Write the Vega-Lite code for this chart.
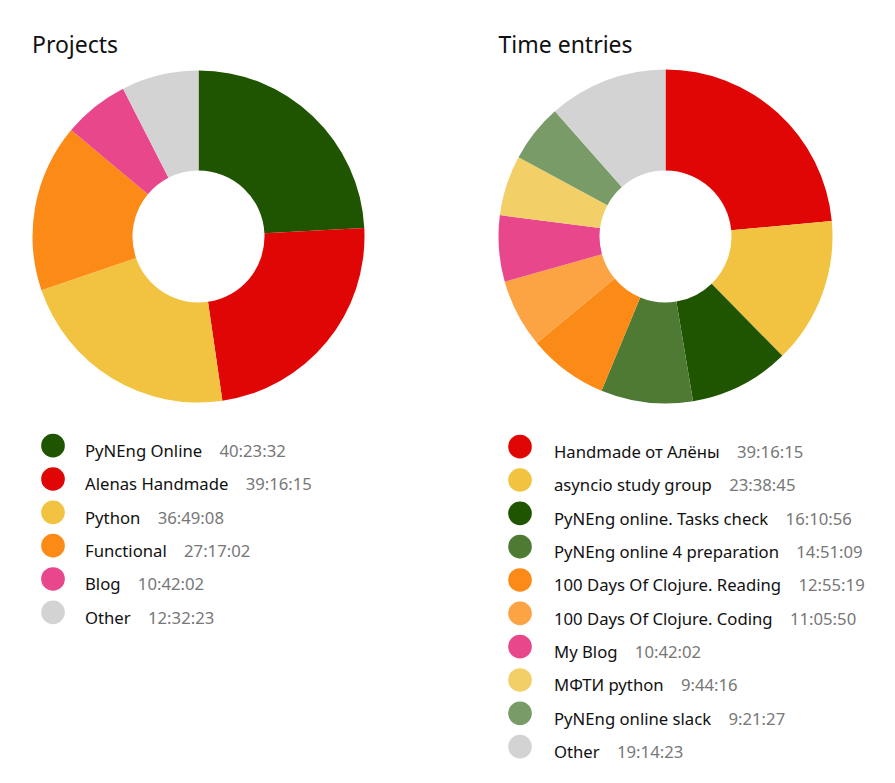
{
  "$schema": "https://vega.github.io/schema/vega-lite/v6.json",
  "background": "white",
  "padding": {"left": 32, "top": 34, "right": 0, "bottom": 0},
  "config": {
    "view": {"stroke": null},
    "font": "Noto Sans",
    "title": {"font": "Noto Sans", "fontSize": 23, "fontWeight": "normal", "color": "#111111", "anchor": "start", "baseline": "alphabetic", "offset": 12}
  },
  "resolve": {"scale": {"color": "independent"}},
  "datasets": {
    "projects": [
      {"name": "PyNEng Online", "time": "40:23:32", "seconds": 145412, "order": 1},
      {"name": "Alenas Handmade", "time": "39:16:15", "seconds": 141375, "order": 2},
      {"name": "Python", "time": "36:49:08", "seconds": 132548, "order": 3},
      {"name": "Functional", "time": "27:17:02", "seconds": 98222, "order": 4},
      {"name": "Blog", "time": "10:42:02", "seconds": 38522, "order": 5},
      {"name": "Other", "time": "12:32:23", "seconds": 45143, "order": 6}
    ],
    "entries": [
      {"name": "Handmade от Алёны", "time": "39:16:15", "seconds": 141375, "order": 1},
      {"name": "asyncio study group", "time": "23:38:45", "seconds": 85125, "order": 2},
      {"name": "PyNEng online. Tasks check", "time": "16:10:56", "seconds": 58256, "order": 3},
      {"name": "PyNEng online 4 preparation", "time": "14:51:09", "seconds": 53469, "order": 4},
      {"name": "100 Days Of Clojure. Reading", "time": "12:55:19", "seconds": 46519, "order": 5},
      {"name": "100 Days Of Clojure. Coding", "time": "11:05:50", "seconds": 39950, "order": 6},
      {"name": "My Blog", "time": "10:42:02", "seconds": 38522, "order": 7},
      {"name": "МФТИ python", "time": "9:44:16", "seconds": 35056, "order": 8},
      {"name": "PyNEng online slack", "time": "9:21:27", "seconds": 33687, "order": 9},
      {"name": "Other", "time": "19:14:23", "seconds": 69263, "order": 10}
    ]
  },
  "spacing": 133,
  "hconcat": [
    {
      "spacing": 26,
      "resolve": {"scale": {"color": "shared"}},
      "vconcat": [
        {
          "title": "Projects",
          "width": 333,
          "height": 333,
          "data": {"name": "projects"},
          "mark": {"type": "arc", "innerRadius": 66, "outerRadius": 166},
          "encoding": {
            "theta": {"field": "seconds", "type": "quantitative", "stack": true},
            "order": {"field": "order", "type": "quantitative"},
            "color": {"field": "name", "type": "nominal", "legend": null,
              "scale": {"domain": ["PyNEng Online", "Alenas Handmade", "Python", "Functional", "Blog", "Other"],
                        "range": ["#1f5400", "#e00606", "#f2c340", "#fb8a17", "#e9478c", "#d3d3d3"]}}
          }
        },
        {
          "width": 333,
          "height": {"step": 33.33},
          "data": {"name": "projects"},
          "transform": [{"calculate": "datum.name + '\u00a0\u00a0\u00a0\u00a0' + datum.time", "as": "full"}],
          "encoding": {
            "y": {"field": "name", "type": "nominal", "sort": null, "axis": null}
          },
          "layer": [
            {
              "mark": {"type": "point", "filled": true, "opacity": 1, "size": 560},
              "encoding": {
                "x": {"datum": 21, "type": "quantitative", "scale": {"domain": [0, 333]}, "axis": null},
                "color": {"field": "name", "type": "nominal", "legend": null,
                  "scale": {"domain": ["PyNEng Online", "Alenas Handmade", "Python", "Functional", "Blog", "Other"],
                            "range": ["#1f5400", "#e00606", "#f2c340", "#fb8a17", "#e9478c", "#d3d3d3"]}}
              }
            },
            {
              "mark": {"type": "text", "align": "left", "baseline": "alphabetic", "dy": 11.5, "fontSize": 16.7, "color": "#777777"},
              "encoding": {
                "x": {"datum": 53, "type": "quantitative", "scale": {"domain": [0, 333]}, "axis": null},
                "text": {"field": "full"}
              }
            },
            {
              "mark": {"type": "text", "align": "left", "baseline": "alphabetic", "dy": 11.5, "fontSize": 16.7, "fill": "#ffffff", "stroke": "#ffffff", "strokeWidth": 2},
              "encoding": {
                "x": {"datum": 53, "type": "quantitative", "scale": {"domain": [0, 333]}, "axis": null},
                "text": {"field": "name"}
              }
            },
            {
              "mark": {"type": "text", "align": "left", "baseline": "alphabetic", "dy": 11.5, "fontSize": 16.7, "color": "#111111"},
              "encoding": {
                "x": {"datum": 53, "type": "quantitative", "scale": {"domain": [0, 333]}, "axis": null},
                "text": {"field": "name"}
              }
            }
          ]
        }
      ]
    },
    {
      "spacing": 26,
      "resolve": {"scale": {"color": "shared"}},
      "vconcat": [
        {
          "title": "Time entries",
          "width": 333,
          "height": 333,
          "data": {"name": "entries"},
          "mark": {"type": "arc", "innerRadius": 66, "outerRadius": 167},
          "encoding": {
            "theta": {"field": "seconds", "type": "quantitative", "stack": true},
            "order": {"field": "order", "type": "quantitative"},
            "color": {"field": "name", "type": "nominal", "legend": null,
              "scale": {"domain": ["Handmade от Алёны", "asyncio study group", "PyNEng online. Tasks check", "PyNEng online 4 preparation", "100 Days Of Clojure. Reading", "100 Days Of Clojure. Coding", "My Blog", "МФТИ python", "PyNEng online slack", "Other"],
                        "range": ["#e00606", "#f2c340", "#1f5400", "#4e7a33", "#fb8a17", "#fca443", "#e9478c", "#f3cf68", "#789b67", "#d3d3d3"]}}
          }
        },
        {
          "width": 333,
          "height": {"step": 33.33},
          "data": {"name": "entries"},
          "transform": [{"calculate": "datum.name + '\u00a0\u00a0\u00a0\u00a0' + datum.time", "as": "full"}],
          "encoding": {
            "y": {"field": "name", "type": "nominal", "sort": null, "axis": null}
          },
          "layer": [
            {
              "mark": {"type": "point", "filled": true, "opacity": 1, "size": 560},
              "encoding": {
                "x": {"datum": 21, "type": "quantitative", "scale": {"domain": [0, 333]}, "axis": null},
                "color": {"field": "name", "type": "nominal", "legend": null,
                  "scale": {"domain": ["Handmade от Алёны", "asyncio study group", "PyNEng online. Tasks check", "PyNEng online 4 preparation", "100 Days Of Clojure. Reading", "100 Days Of Clojure. Coding", "My Blog", "МФТИ python", "PyNEng online slack", "Other"],
                            "range": ["#e00606", "#f2c340", "#1f5400", "#4e7a33", "#fb8a17", "#fca443", "#e9478c", "#f3cf68", "#789b67", "#d3d3d3"]}}
              }
            },
            {
              "mark": {"type": "text", "align": "left", "baseline": "alphabetic", "dy": 11.5, "fontSize": 16.7, "color": "#777777"},
              "encoding": {
                "x": {"datum": 55, "type": "quantitative", "scale": {"domain": [0, 333]}, "axis": null},
                "text": {"field": "full"}
              }
            },
            {
              "mark": {"type": "text", "align": "left", "baseline": "alphabetic", "dy": 11.5, "fontSize": 16.7, "fill": "#ffffff", "stroke": "#ffffff", "strokeWidth": 2},
              "encoding": {
                "x": {"datum": 55, "type": "quantitative", "scale": {"domain": [0, 333]}, "axis": null},
                "text": {"field": "name"}
              }
            },
            {
              "mark": {"type": "text", "align": "left", "baseline": "alphabetic", "dy": 11.5, "fontSize": 16.7, "color": "#111111"},
              "encoding": {
                "x": {"datum": 55, "type": "quantitative", "scale": {"domain": [0, 333]}, "axis": null},
                "text": {"field": "name"}
              }
            }
          ]
        }
      ]
    }
  ]
}
